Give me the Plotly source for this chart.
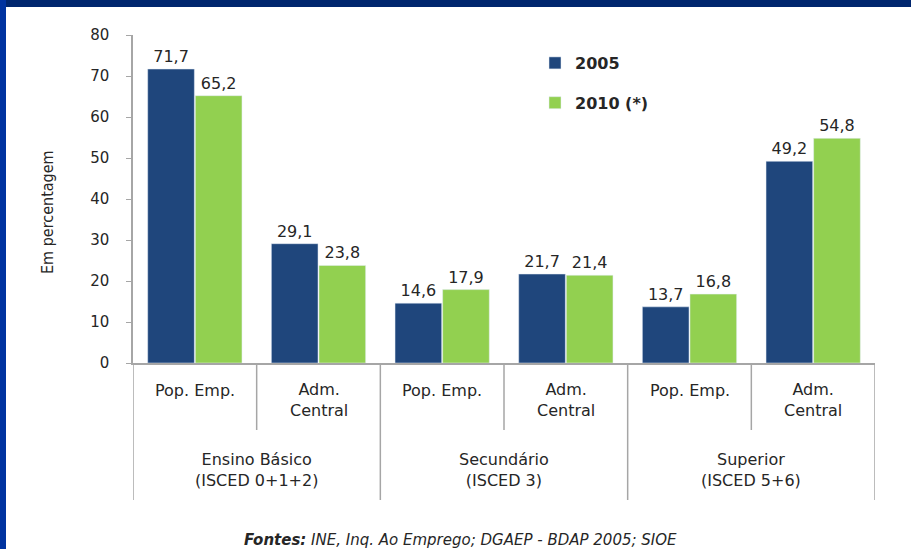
import plotly.graph_objects as go

categories = ["Pop. Emp.", "Adm.<br>Central", "Pop. Emp.", "Adm.<br>Central", "Pop. Emp.", "Adm.<br>Central"]
groups = ["Ensino Básico<br>(ISCED 0+1+2)", "Secundário<br>(ISCED 3)", "Superior<br>(ISCED 5+6)"]
values_2005 = [71.7, 29.1, 14.6, 21.7, 13.7, 49.2]
values_2010 = [65.2, 23.8, 17.9, 21.4, 16.8, 54.8]
labels_2005 = ["71,7", "29,1", "14,6", "21,7", "13,7", "49,2"]
labels_2010 = ["65,2", "23,8", "17,9", "21,4", "16,8", "54,8"]
y_ticks = [0, 10, 20, 30, 40, 50, 60, 70, 80]

NAVY = "#1f467c"
GREEN = "#92d050"
GRID = "#a6a6a6"
TXT = "#262626"

W, H = 911, 549
L, R, T, B = 133, 36, 35, 186
pw, ph = W - L - R, H - T - B

def px(x):
    return (x - L) / pw

def py(y):
    return (H - B - y) / ph

xs = list(range(len(categories)))

fig = go.Figure()
fig.add_trace(go.Bar(
    x=xs, y=values_2005, name="2005", marker_color=NAVY,
    text=labels_2005, textposition="outside", cliponaxis=False,
    textfont=dict(family="DejaVu Sans", size=16, color=TXT),
    legendgroup="a",
))
fig.add_trace(go.Bar(
    x=xs, y=values_2010, name="2010 (*)", marker_color=GREEN,
    text=labels_2010, textposition="outside", cliponaxis=False,
    textfont=dict(family="DejaVu Sans", size=16, color=TXT),
    legendgroup="b",
))

shapes = []
# group boundaries
for b in [-0.5, 1.5, 3.5, 5.5]:
    shapes.append(dict(type="line", xref="x", yref="paper", x0=b, x1=b,
                       y0=0, y1=py(500), line=dict(color=GRID, width=1.5)))
# sub-category boundaries
for b in [0.5, 2.5, 4.5]:
    shapes.append(dict(type="line", xref="x", yref="paper", x0=b, x1=b,
                       y0=0, y1=py(430), line=dict(color=GRID, width=1.5)))
# blue frame (top and left)
shapes.append(dict(type="rect", xref="paper", yref="paper", x0=px(-5), x1=px(W + 5),
                   y0=py(7), y1=py(-5), fillcolor="#00266e", line=dict(width=0), layer="above"))
shapes.append(dict(type="rect", xref="paper", yref="paper", x0=px(-5), x1=px(6),
                   y0=py(H + 5), y1=py(-5), fillcolor="#0033a0", line=dict(width=0), layer="above"))

annotations = []
for i, c in enumerate(categories):
    yy = 390 if "<br>" not in c else 400
    annotations.append(dict(x=i, y=py(yy), xref="x", yref="paper", text=c, showarrow=False,
                            font=dict(family="DejaVu Sans", size=16, color=TXT),
                            xanchor="center", yanchor="middle"))
for g, name in enumerate(groups):
    annotations.append(dict(x=2 * g + 0.5, y=py(470), xref="x", yref="paper", text=name,
                            showarrow=False, font=dict(family="DejaVu Sans", size=16, color=TXT),
                            xanchor="center", yanchor="middle"))
annotations.append(dict(x=px(48), y=py(212), xref="paper", yref="paper", text="Em percentagem",
                        textangle=-90, showarrow=False,
                        font=dict(family="DejaVu Sans Condensed, DejaVu Sans", size=16, color=TXT),
                        xanchor="center", yanchor="middle"))
annotations.append(dict(x=px(460), y=py(540), xref="paper", yref="paper",
                        text="<b><i>Fontes:</i></b><i> INE, Inq. Ao Emprego; DGAEP - BDAP 2005; SIOE</i>",
                        showarrow=False, font=dict(family="DejaVu Sans", size=15, color=TXT),
                        xanchor="center", yanchor="middle"))

fig.update_layout(
    width=W, height=H,
    margin=dict(l=L, r=R, t=T, b=B),
    paper_bgcolor="white", plot_bgcolor="white",
    barmode="group", bargap=0.23, bargroupgap=0.02,
    showlegend=True,
    legend=dict(x=px(535), y=py(46), xanchor="left", yanchor="top",
                font=dict(family="DejaVu Sans", size=16, color=TXT, weight="bold"),
                tracegroupgap=16, bgcolor="rgba(0,0,0,0)", itemwidth=30),
    xaxis=dict(range=[-0.5, 5.5], showticklabels=False, ticks="", showgrid=False,
               zeroline=False, showline=True, linecolor=GRID, linewidth=1.5, fixedrange=True),
    yaxis=dict(range=[0, 80], tickvals=y_ticks, ticks="outside", ticklen=5, tickcolor=GRID,
               showgrid=False, zeroline=False, showline=True, linecolor=GRID, linewidth=1.5,
               tickfont=dict(family="DejaVu Sans", size=15, color=TXT), ticklabelstandoff=14),
    shapes=shapes, annotations=annotations,
)

fig.write_html("out.html", config={"displayModeBar": False},
               post_script="document.body.style.margin='0';")
